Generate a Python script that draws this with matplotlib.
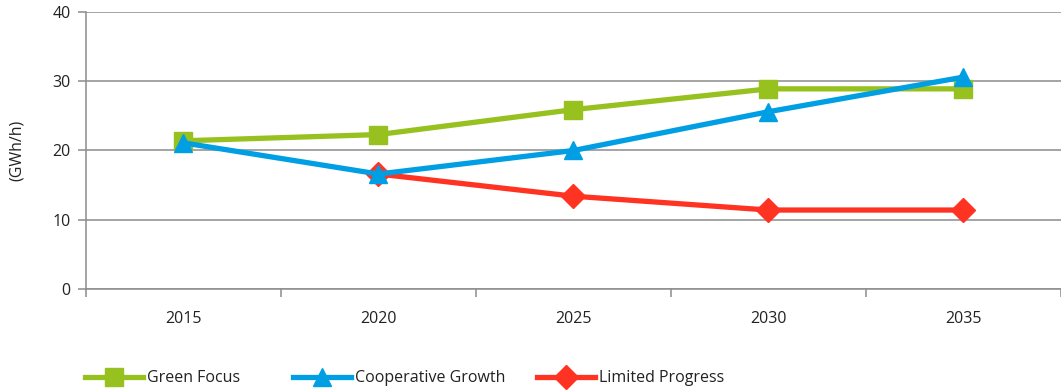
import numpy as np
import matplotlib
matplotlib.use("Agg")
import matplotlib.pyplot as plt

plt.rcParams["font.family"] = ["Open Sans", "DejaVu Sans"]

years = ["2015", "2020", "2025", "2030", "2035"]
green_focus = [21.4, 22.3, 25.9, 28.9, 28.9]
cooperative_growth = [21.1, 16.6, 20.0, 25.6, 30.6]
limited_progress = [np.nan, 16.6, 13.4, 11.4, 11.4]

GREEN = "#96c11f"
BLUE = "#009fe3"
RED = "#ff3322"
GRID = "#8c8c8c"
INK = "#222222"
FS = 11.5

fig = plt.figure(figsize=(10.61, 3.92), dpi=100)
ax = fig.add_axes([0.081, 0.2628, 0.919, 0.7066])

x = np.arange(len(years))
l_red, = ax.plot(x, limited_progress, color=RED, lw=3.8, marker="D", ms=12.5,
                 label="Limited Progress", zorder=3)
l_green, = ax.plot(x, green_focus, color=GREEN, lw=3.8, marker="s", ms=12.5,
                   label="Green Focus", zorder=4)
l_blue, = ax.plot(x, cooperative_growth, color=BLUE, lw=3.8, marker="^", ms=13.5,
                  label="Cooperative Growth", zorder=5)

ax.set_xlim(-0.49, 4.48)
ax.set_ylim(0, 40)
ax.set_yticks([0, 10, 20, 30, 40])
ax.yaxis.grid(True, color=GRID, lw=1.1)
ax.set_axisbelow(True)

# category boundaries carry the tick marks, labels sit at the centres
ax.set_xticks(np.arange(-0.5, 4.6, 1.0))
ax.set_xticklabels([])
ax.set_xticks(x, minor=True)
ax.set_xticklabels(years, minor=True)
ax.tick_params(axis="x", which="major", length=6, color=GRID, width=1.1)
ax.tick_params(axis="x", which="minor", length=0, pad=16, labelsize=FS,
               labelcolor=INK)
ax.tick_params(axis="y", length=6, color=GRID, width=1.1, labelsize=FS,
               labelcolor=INK, pad=5)

for s in ("top", "right"):
    ax.spines[s].set_visible(False)
for s in ("left", "bottom"):
    ax.spines[s].set_color(GRID)
    ax.spines[s].set_linewidth(1.1)

ax.set_ylabel("(GWh/h)", fontsize=FS, color=INK, labelpad=20)

# one legend entry per slot along the bottom
for handle, x0 in ((l_green, 85), (l_blue, 293), (l_red, 537)):
    fig.legend([handle], [handle.get_label()], loc="center left",
               bbox_to_anchor=(x0 / 1061, 0.035), frameon=False, fontsize=FS,
               handlelength=3.6, handletextpad=0.3, borderpad=0,
               borderaxespad=0, labelcolor=INK)

fig.savefig("out.png", dpi=100)
